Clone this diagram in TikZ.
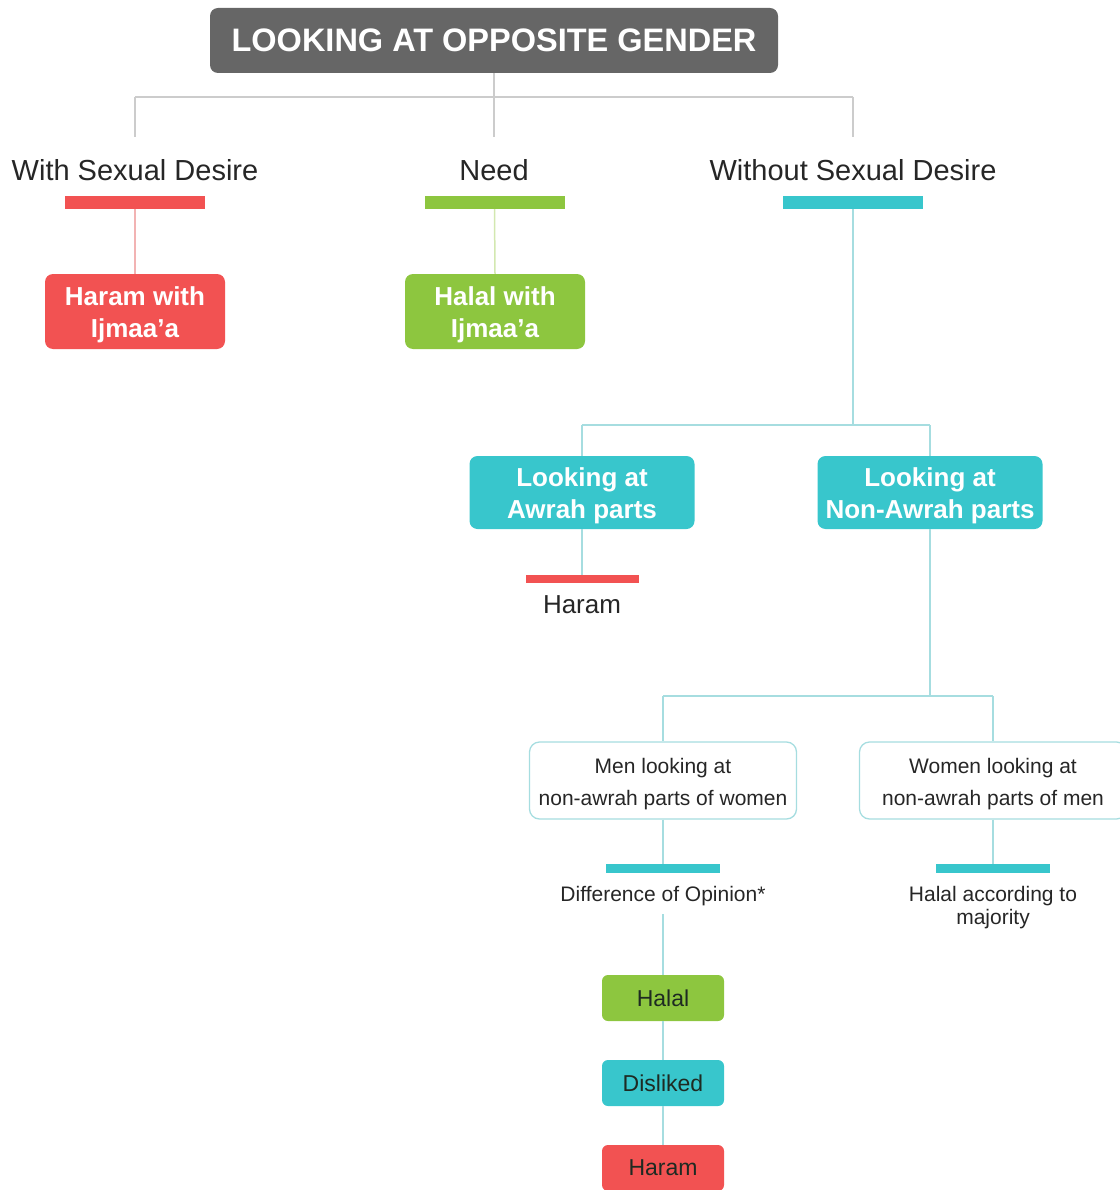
\documentclass[tikz,border=0pt]{standalone}
\usepackage{fontspec}
\setmainfont{Liberation Sans}
\definecolor{cgray}{HTML}{666666}
\definecolor{cred}{HTML}{F25252}
\definecolor{cgreen}{HTML}{8DC63F}
\definecolor{cteal}{HTML}{38C6CC}
\definecolor{lgray}{HTML}{CCCCCC}
\definecolor{lteal}{HTML}{A6DDE0}
\definecolor{lred}{HTML}{F2B3B3}
\definecolor{lgreen}{HTML}{D3E8B0}
\definecolor{darktxt}{HTML}{1E2A22}
\newcommand{\lowered}[2]{\raisebox{-#1}[\height][\depth]{\begin{tabular}{@{}c@{}}#2\end{tabular}}}
\begin{document}
\begin{tikzpicture}[x=1pt,y=-1pt,
  fillbox/.style={rectangle, rounded corners=8pt, inner sep=0pt, align=center, text=white,
    font=\fontsize{26}{32}\selectfont\bfseries},
  smallbox/.style={rectangle, rounded corners=6pt, inner sep=0pt, align=center, text=darktxt,
    minimum width=122pt, minimum height=46pt, font=\fontsize{23}{27}\selectfont},
  outbox/.style={rectangle, rounded corners=10pt, draw=lteal, line width=1.3pt, fill=white,
    inner sep=0pt, align=center, minimum width=267pt, minimum height=77pt,
    font=\fontsize{21}{32}\selectfont, text=black!85},
  bar/.style={rectangle, inner sep=0pt, minimum height=#1},
  bar/.default=13pt,
  lbl/.style={inner sep=0pt, align=center, text=black!85},
  conn/.style={line width=1.5pt}
]
\useasboundingbox (0,0) rectangle (1119,1190);

% title
\node[fill=cgray, rounded corners=8pt, minimum width=568pt, minimum height=65pt, inner sep=0pt,
  text=white, font=\fontsize{32.5}{36}\selectfont\bfseries] (title) at (494,40.5) {LOOKING AT OPPOSITE GENDER};

% level 1 labels
\node[lbl, font=\fontsize{29}{32}\selectfont] (l1) at (135,170) {With Sexual Desire};
\node[lbl, font=\fontsize{29}{32}\selectfont] (l2) at (494,170) {Need};
\node[lbl, font=\fontsize{29}{32}\selectfont] (l3) at (853,170) {Without Sexual Desire};

\coordinate (j0) at (494,97);
\coordinate (j1) at (135,97);
\coordinate (j3) at (853,97);
\coordinate (t1) at (135,137);
\coordinate (t2) at (494,137);
\coordinate (t3) at (853,137);

% bars
\node[bar, fill=cred, minimum width=140pt] (b1) at (135,202.5) {};
\node[bar, fill=cgreen, minimum width=140pt] (b2) at (494.5,202.5) {};
\node[bar, fill=cteal, minimum width=140pt] (b3) at (853,202.5) {};

% level 2 boxes
\node[fillbox, fill=cred, minimum width=180pt, minimum height=75pt] (haramij) at (135,311.5) {\lowered{3.5pt}{Haram with\\Ijmaa’a}};
\node[fillbox, fill=cgreen, minimum width=180pt, minimum height=75pt] (halalij) at (495,311.5) {\lowered{3.5pt}{Halal with\\Ijmaa’a}};

\coordinate (k3) at (853,425);
\coordinate (ka) at (582,425);
\coordinate (kn) at (930,425);

\node[fillbox, fill=cteal, minimum width=225pt, minimum height=73pt] (awrah) at (582,492.5) {\lowered{3.5pt}{Looking at\\Awrah parts}};
\node[fillbox, fill=cteal, minimum width=225pt, minimum height=73pt] (nonawrah) at (930,492.5) {\lowered{3.5pt}{Looking at\\Non-Awrah parts}};

\node[bar=8pt, fill=cred, minimum width=113pt] (hbar) at (582,579) {};
\node[lbl, font=\fontsize{26}{30}\selectfont] (haram1) at (582,605) {Haram};

\coordinate (m0) at (930,696);
\coordinate (mm) at (663,696);
\coordinate (mw) at (993,696);

\node[outbox] (men) at (663,780.5) {\lowered{3pt}{Men looking at\\non-awrah parts of women}};
\node[outbox] (women) at (993,780.5) {\lowered{3pt}{Women looking at\\non-awrah parts of men}};

\node[bar=9pt, fill=cteal, minimum width=114pt] (dbar) at (663,868.5) {};
\node[bar=9pt, fill=cteal, minimum width=114pt] (wbar) at (993,868.5) {};

\node[lbl, font=\fontsize{21}{23}\selectfont] (dop) at (663,896) {Difference of Opinion*};
\node[lbl, font=\fontsize{21}{23}\selectfont] (hmaj) at (993,907.5) {Halal according to\\majority};
\coordinate (dopb) at (663,914);

\node[smallbox, fill=cgreen] (halal) at (663,998) {Halal};
\node[smallbox, fill=cteal] (disliked) at (663,1083) {Disliked};
\node[smallbox, fill=cred] (haram2) at (663,1168) {Haram};

% connectors
\draw[conn, lgray] (title.south) -- (j0);
\draw[conn, lgray] (j1) -- (j3);
\draw[conn, lgray] (j1) -- (t1);
\draw[conn, lgray] (j0) -- (t2);
\draw[conn, lgray] (j3) -- (t3);
\draw[conn, lred] (b1.south) -- (haramij.north);
\draw[conn, lgreen] (b2.south) -- (halalij.north);
\draw[conn, lteal] (b3.south) -- (k3);
\draw[conn, lteal] (ka) -- (kn);
\draw[conn, lteal] (ka) -- (awrah.north);
\draw[conn, lteal] (kn) -- (nonawrah.north);
\draw[conn, lteal] (awrah.south) -- (hbar.north);
\draw[conn, lteal] (nonawrah.south) -- (m0);
\draw[conn, lteal] (mm) -- (mw);
\draw[conn, lteal] (mm) -- (men.north);
\draw[conn, lteal] (mw) -- (women.north);
\draw[conn, lteal] (men.south) -- (dbar.north);
\draw[conn, lteal] (women.south) -- (wbar.north);
\draw[conn, lteal] (dopb) -- (halal.north);
\draw[conn, lteal] (halal.south) -- (disliked.north);
\draw[conn, lteal] (disliked.south) -- (haram2.north);
\end{tikzpicture}
\end{document}
